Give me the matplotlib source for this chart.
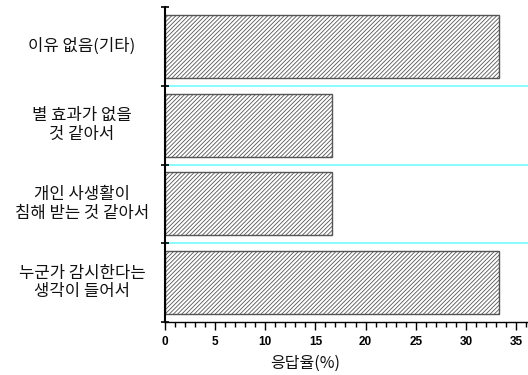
import matplotlib
matplotlib.use("Agg")
import matplotlib.pyplot as plt
from matplotlib.ticker import MultipleLocator
from matplotlib.transforms import blended_transform_factory

categories = ["이유 없음(기타)", "별 효과가 없을\n것 같아서", "개인 사생활이\n침해 받는 것 같아서", "누군가 감시한다는\n생각이 들어서"]
values = [33.3, 16.7, 16.7, 33.3]
x_ticks = [0, 5, 10, 15, 20, 25, 30, 35]
x_label = "응답율(%)"

plt.rcParams['font.family'] = ['Noto Sans CJK KR', 'DejaVu Sans']
plt.rcParams['hatch.color'] = '#a5a5a5'
plt.rcParams['hatch.linewidth'] = 0.6

fig = plt.figure(figsize=(5.28, 3.75), dpi=100)
ax = fig.add_axes([165/528, 1-322/375, 1-165/528, (322-7)/375])

pos = list(range(len(categories)))
ax.barh(pos, values, height=0.8, color='white', edgecolor='#555555',
        linewidth=1.0, hatch='////////', zorder=2)

ax.set_ylim(len(categories) - 0.5, -0.5)
ax.set_xlim(0, 36.2)

# cyan separators
for b in [0.5, 1.5, 2.5]:
    ax.axhline(b, color='#7ffcff', lw=1.3, zorder=1)

ax.set_yticks([-0.5, 0.5, 1.5, 2.5, 3.5])
ax.set_yticklabels([])
ax.tick_params(axis='y', direction='inout', length=6, width=1.2, color='black')

ax.set_xticks(x_ticks)
ax.xaxis.set_minor_locator(MultipleLocator(1))
ax.tick_params(axis='x', which='major', direction='out', length=6, width=1, pad=4)
ax.tick_params(axis='x', which='minor', direction='out', length=3.5, width=1)
for lab in ax.get_xticklabels():
    lab.set_fontfamily(['Liberation Sans', 'DejaVu Sans'])
    lab.set_fontweight('bold')
    lab.set_fontsize(8.5)

for s in ['top', 'right']:
    ax.spines[s].set_visible(False)
ax.spines['left'].set_linewidth(1.5)
ax.spines['bottom'].set_linewidth(1.0)

trans = blended_transform_factory(fig.transFigure, ax.transData)
for p, c in zip(pos, categories):
    ax.text(82/528, p, c, transform=trans, ha='center', va='center',
            fontsize=12, linespacing=1.12, color='#111111')

fig.text(305/528, 1-363/375, x_label, ha='center', va='center', fontsize=11.5, color='#111111')

fig.savefig("out.png", dpi=100)
